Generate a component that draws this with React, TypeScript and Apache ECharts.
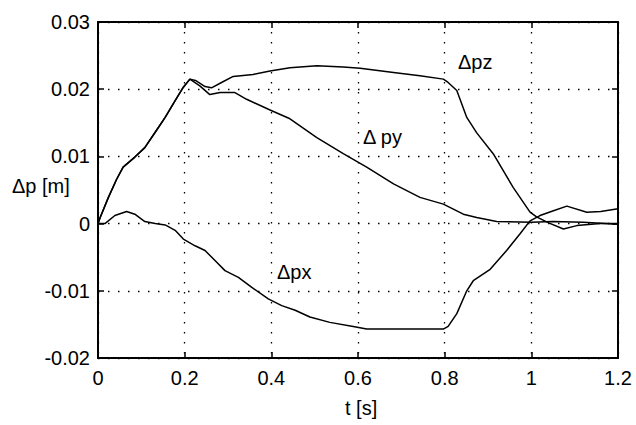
import React, { useEffect, useRef } from "react";
import * as echarts from "echarts";

const xTicks = [0, 0.2, 0.4, 0.6, 0.8, 1, 1.2];
const yTicks = [-0.02, -0.01, 0, 0.01, 0.02, 0.03];

const pz: [number, number][] = [
  [0, 0], [0.005, 0.0009], [0.024, 0.0039], [0.043, 0.0066], [0.058, 0.0084], [0.085, 0.0099],
  [0.108, 0.0113], [0.132, 0.0136], [0.155, 0.0158], [0.178, 0.0183], [0.197, 0.0203], [0.212, 0.0215],
  [0.225, 0.0213], [0.247, 0.0204], [0.262, 0.0202], [0.285, 0.021], [0.312, 0.0219], [0.358, 0.0222],
  [0.397, 0.0227], [0.443, 0.0232], [0.505, 0.0235], [0.566, 0.0233], [0.605, 0.0231], [0.682, 0.0225],
  [0.743, 0.022], [0.797, 0.0215], [0.808, 0.021], [0.828, 0.0198], [0.851, 0.0158], [0.874, 0.0135],
  [0.912, 0.0104], [0.958, 0.0054], [0.997, 0.0017], [1.012, 0.001], [1.04, 0.0001], [1.074, -0.0008],
  [1.105, -0.0003], [1.159, 0.0], [1.2, 0.0],
];

const py: [number, number][] = [
  [0, 0], [0.005, 0.0009], [0.024, 0.0039], [0.043, 0.0066], [0.058, 0.0084], [0.085, 0.0099],
  [0.108, 0.0113], [0.132, 0.0136], [0.155, 0.0158], [0.178, 0.0183], [0.197, 0.0203], [0.212, 0.0215],
  [0.235, 0.0205], [0.258, 0.0192], [0.282, 0.0195], [0.316, 0.0195], [0.343, 0.0185], [0.397, 0.0169],
  [0.443, 0.0156], [0.505, 0.0128], [0.566, 0.0104], [0.62, 0.0084], [0.682, 0.0059], [0.743, 0.0039],
  [0.797, 0.0029], [0.843, 0.0014], [0.874, 0.0009], [0.92, 0.0003], [1.0, 0.0002], [1.05, 0.0003],
  [1.12, 0.0002], [1.2, -0.0001],
];

const px: [number, number][] = [
  [0, 0], [0.016, 0.0], [0.039, 0.0012], [0.066, 0.0018], [0.085, 0.0014], [0.108, 0.0003],
  [0.132, 0.0], [0.155, -0.0002], [0.178, -0.001], [0.197, -0.0023], [0.224, -0.0033], [0.247, -0.004],
  [0.27, -0.0055], [0.293, -0.007], [0.324, -0.008], [0.355, -0.0095], [0.393, -0.0112], [0.424, -0.0122],
  [0.455, -0.0129], [0.489, -0.0139], [0.535, -0.0147], [0.589, -0.0153], [0.62, -0.0157], [0.797, -0.0157],
  [0.808, -0.0153], [0.828, -0.0134], [0.851, -0.01], [0.866, -0.0085], [0.905, -0.0068], [0.943, -0.004],
  [0.974, -0.0015], [0.997, 0.0004], [1.02, 0.0012], [1.051, 0.0019], [1.082, 0.0026], [1.128, 0.0017],
  [1.16, 0.0018], [1.2, 0.0022],
];

const seriesNames = ["Δpx", "Δpy", "Δpz"];
const yAxisTitle = "Δp [m]";
const xAxisTitle = "t [s]";

const FONT = "'Liberation Sans', Arial, sans-serif";

export default function App() {
  const ref = useRef<HTMLDivElement>(null);
  useEffect(() => {
    if (!ref.current) return;
    const chart = echarts.init(ref.current, undefined, { renderer: "svg" });
    const axisLine = { show: true, onZero: false, lineStyle: { color: "#000", width: 2 } };
    const tick = { show: true, inside: true, length: 6, lineStyle: { color: "#000", width: 1.5 } };
    const split = { show: true, lineStyle: { color: "#000", width: 1.3, type: [1.5, 8.5] as any } };
    const label = { color: "#000", fontFamily: FONT, fontSize: 20 };
    const textStyle = { fill: "#000", font: `20px ${FONT}` };
    chart.setOption({
      animation: false,
      backgroundColor: "#fff",
      grid: { left: 98, top: 22, right: 18, bottom: 67, containLabel: false },
      xAxis: [
        {
          type: "value", min: xTicks[0], max: xTicks[xTicks.length - 1], interval: 0.2,
          position: "bottom", axisLine, axisTick: tick, splitLine: split,
          axisLabel: { ...label, margin: 10 },
        },
        {
          type: "value", min: xTicks[0], max: xTicks[xTicks.length - 1], interval: 0.2,
          position: "top", axisLine, axisTick: tick, splitLine: { show: false }, axisLabel: { show: false },
        },
      ],
      yAxis: [
        {
          type: "value", min: yTicks[0], max: yTicks[yTicks.length - 1], interval: 0.01,
          position: "left", axisLine, axisTick: tick, splitLine: split,
          axisLabel: { ...label, margin: 8 },
        },
        {
          type: "value", min: yTicks[0], max: yTicks[yTicks.length - 1], interval: 0.01,
          position: "right", axisLine, axisTick: tick, splitLine: { show: false }, axisLabel: { show: false },
        },
      ],
      series: [px, py, pz].map((d, i) => ({
        name: seriesNames[i],
        type: "line",
        data: d,
        showSymbol: false,
        smooth: false,
        lineStyle: { color: "#000", width: 1.5 },
        xAxisIndex: 0,
        yAxisIndex: 0,
      })),
      graphic: [
        { type: "text", left: 12, top: 176, style: { text: yAxisTitle, ...textStyle } },
        { type: "text", left: 345, top: 398, style: { text: xAxisTitle, ...textStyle } },
        { type: "text", left: 458, top: 52, style: { text: seriesNames[2], ...textStyle } },
        { type: "text", left: 363, top: 127, style: { text: "Δ py", ...textStyle } },
        { type: "text", left: 277, top: 262, style: { text: seriesNames[0], ...textStyle } },
      ],
    });
    return () => chart.dispose();
  }, []);
  return (
    <div
      ref={ref}
      style={{ position: "fixed", left: 0, top: 0, width: 636, height: 425, background: "#fff" }}
    />
  );
}
